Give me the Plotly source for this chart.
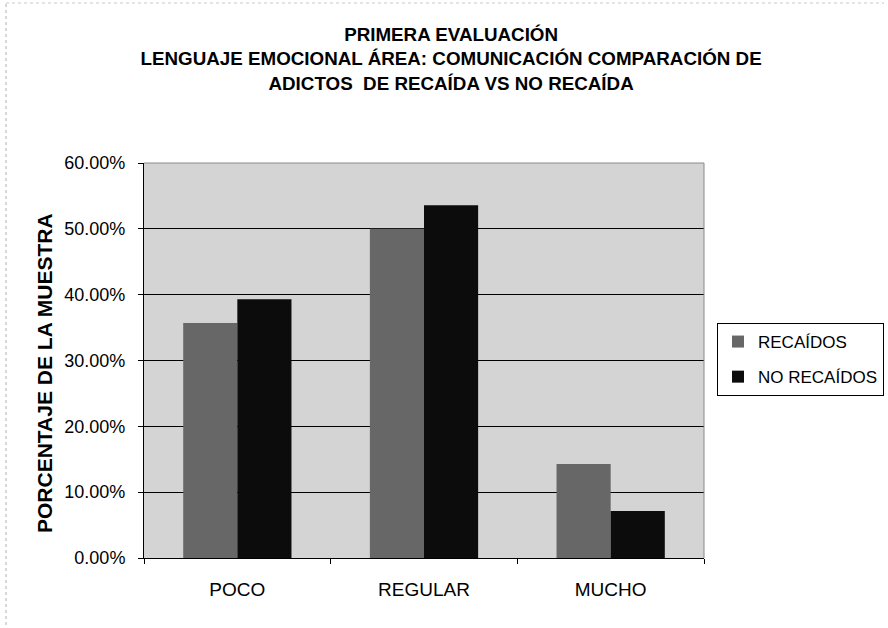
import plotly.graph_objects as go

# Data: share of the sample per response level
categories = ["POCO", "REGULAR", "MUCHO"]
recaidos = [0.3571, 0.5000, 0.1429]
no_recaidos = [0.3929, 0.5357, 0.0714]
series_names = ["RECAÍDOS", "NO RECAÍDOS"]
y_ticks = [0, 0.1, 0.2, 0.3, 0.4, 0.5, 0.6]

title_lines = [
    "PRIMERA EVALUACIÓN",
    "LENGUAJE EMOCIONAL ÁREA: COMUNICACIÓN COMPARACIÓN DE",
    "ADICTOS  DE RECAÍDA VS NO RECAÍDA",
]
y_title = "PORCENTAJE DE LA MUESTRA"

FONT = "Liberation Sans, Arial, sans-serif"

fig = go.Figure()
fig.add_trace(go.Bar(
    x=categories, y=recaidos, name=series_names[0], legendgroup="a",
    marker=dict(color="#676767", line=dict(width=0)),
))
fig.add_trace(go.Bar(
    x=categories, y=no_recaidos, name=series_names[1], legendgroup="b",
    marker=dict(color="#0c0c0c", line=dict(width=0)),
))

W, H = 888, 628
L, R, T, B = 144, 184, 163, 70
pw, ph = W - L - R, H - T - B

fig.update_layout(
    width=W, height=H,
    margin=dict(l=L, r=R, t=T, b=B, autoexpand=False),
    paper_bgcolor="white",
    plot_bgcolor="#d4d4d4",
    barmode="group",
    bargap=0.42,
    bargroupgap=0,
    title=dict(
        text="<b>" + "<br>".join(title_lines) + "</b>",
        font=dict(family=FONT, size=18.8, color="black"),
        x=0.508, xanchor="center",
        xref="container",
        y=0.935, yanchor="top", yref="container",
    ),
    legend=dict(
        x=(717 - L) / pw, xanchor="left",
        y=(H - B - 323) / ph, yanchor="top",
        bordercolor="black", borderwidth=1,
        bgcolor="white",
        font=dict(family=FONT, size=17, color="black"),
        itemwidth=30,
        tracegroupgap=10,
        traceorder="grouped",
    ),
    showlegend=True,
)

fig.update_xaxes(
    showgrid=False,
    showline=True, linecolor="black", linewidth=1,
    ticks="outside", tickson="boundaries", ticklen=5, tickcolor="black",
    tickfont=dict(family=FONT, size=19, color="black"),
    ticklabelstandoff=14,
)
fig.update_yaxes(
    range=[0, 0.6],
    tickvals=y_ticks,
    tickformat=".2%",
    showgrid=True, gridcolor="black", gridwidth=1,
    zeroline=False,
    showline=True, linecolor="black", linewidth=1,
    ticks="outside", ticklen=5, tickcolor="black",
    tickfont=dict(family=FONT, size=18, color="black"),
    ticklabelstandoff=9,
)

# gray frame on top and right of the plotting area
fig.add_shape(type="line", xref="paper", yref="paper", x0=0, x1=1, y0=1, y1=1,
              line=dict(color="#8a8a8a", width=1))
fig.add_shape(type="line", xref="paper", yref="paper", x0=1, x1=1, y0=0, y1=1,
              line=dict(color="#8a8a8a", width=1))

# dotted chart border
fig.add_shape(type="line", xref="paper", yref="paper",
              x0=(6 - L) / pw, x1=(6 - L) / pw, y0=(H - B - 625) / ph, y1=(H - B - 3) / ph,
              line=dict(color="#b0b0b0", width=1, dash="dot"))
fig.add_shape(type="line", xref="paper", yref="paper",
              x0=(6 - L) / pw, x1=(884 - L) / pw, y0=(H - B - 3) / ph, y1=(H - B - 3) / ph,
              line=dict(color="#c8c8c8", width=1, dash="dot"))

# vertical axis title
fig.add_annotation(
    text="<b>" + y_title + "</b>",
    xref="paper", yref="paper",
    x=(44 - L) / pw, y=(H - B - 373) / ph,
    xanchor="center", yanchor="middle",
    textangle=-90, showarrow=False,
    font=dict(family=FONT, size=21, color="black"),
)

fig.write_html("out.html")
